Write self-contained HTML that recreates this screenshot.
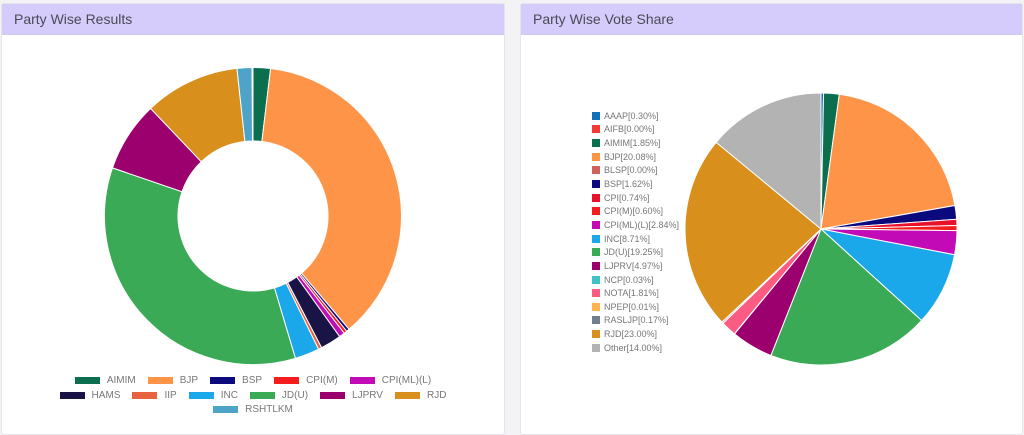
<!DOCTYPE html>
<html><head><meta charset="utf-8"><style>
body{margin:0;width:1024px;height:423px;background:#f3f3f5;font-family:"Liberation Sans",sans-serif;overflow:hidden;position:relative}
.card{position:absolute;top:3px;height:430px;background:#fff;border:1px solid #e4e4ea;border-radius:3px}
.hd{height:30px;background:#d6ccfc;color:#4a4a55;font-size:14px;line-height:30px;padding-left:12px;border-bottom:1px solid #cfc6f0}
.lg{position:absolute;display:flex;justify-content:center;width:100%;left:0;font-size:10px;color:#777}
.lg span{display:flex;align-items:center;margin:0 6px}
.lg i{display:inline-block;width:25px;height:7px;margin-right:7px}
.rl{position:absolute;left:592px;top:109px;font-size:9px;color:#777}
.rl div{height:13.65px;display:flex;align-items:center}
.rl i{display:inline-block;width:8px;height:8px;margin-right:4px}
</style></head><body>
<div class="card" style="left:1px;width:502px"><div class="hd">Party Wise Results</div>
<div class="lg" style="top:371px"><span><i style="background:#0b6e4f"></i>AIMIM</span><span><i style="background:#fe9448"></i>BJP</span><span><i style="background:#0a0a7e"></i>BSP</span><span><i style="background:#f41c1c"></i>CPI(M)</span><span><i style="background:#c20ab6"></i>CPI(ML)(L)</span></div>
<div class="lg" style="top:386px"><span><i style="background:#1a1446"></i>HAMS</span><span><i style="background:#e8623f"></i>IIP</span><span><i style="background:#1ba8ea"></i>INC</span><span><i style="background:#3aaa56"></i>JD(U)</span><span><i style="background:#9c006e"></i>LJPRV</span><span><i style="background:#d88f1c"></i>RJD</span></div>
<div class="lg" style="top:400px"><span><i style="background:#4da3c8"></i>RSHTLKM</span></div>
</div>
<div class="card" style="left:520px;width:501px"><div class="hd">Party Wise Vote Share</div></div>
<svg id="s" width="1024" height="423" style="position:absolute;left:0;top:0"></svg>
<div class="rl" id="rl"></div>
<script>
function pt(cx,cy,r,a){a=(a-90)*Math.PI/180;return [cx+r*Math.cos(a),cy+r*Math.sin(a)]}
function arc(cx,cy,r,ri,a0,a1){var l=a1-a0>180?1:0,p=pt(cx,cy,r,a0),q=pt(cx,cy,r,a1);
if(!ri){return `M${cx},${cy}L${p}A${r},${r} 0 ${l} 1 ${q}Z`}
var p2=pt(cx,cy,ri,a1),q2=pt(cx,cy,ri,a0);return `M${p}A${r},${r} 0 ${l} 1 ${q}L${p2}A${ri},${ri} 0 ${l} 0 ${q2}Z`}
var s='';
var d=[[0,6.8,'#0b6e4f'],[6.8,139.7,'#fe9448'],[139.7,140.9,'#0a0a7e'],[140.9,142.1,'#f41c1c'],[142.1,144.3,'#c20ab6'],[144.3,152.5,'#1a1446'],[152.5,153.8,'#e8623f'],[153.8,163.4,'#1ba8ea'],[163.4,288.9,'#3aaa56'],[288.9,316.4,'#9c006e'],[316.4,353.8,'#d88f1c'],[353.8,359.6,'#4da3c8']];
d.forEach(x=>s+=`<path d="${arc(253,216,148.5,75,x[0],x[1])}" fill="${x[2]}" stroke="#fff" stroke-width="1"/>`);
var v=[['AAAP',.3,'#1170b8'],['AIFB',0,'#f23a3a'],['AIMIM',1.85,'#0b6e4f'],['BJP',20.08,'#fe9448'],['BLSP',0,'#d0605a'],['BSP',1.62,'#0a0a7e'],['CPI',.74,'#e8102a'],['CPI(M)',.6,'#f41c1c'],['CPI(ML)(L)',2.84,'#c20ab6'],['INC',8.71,'#1ba8ea'],['JD(U)',19.25,'#3aaa56'],['LJPRV',4.97,'#9c006e'],['NCP',.03,'#3fc1c9'],['NOTA',1.81,'#fc5c82'],['NPEP',.01,'#fdb44b'],['RASLJP',.17,'#708090'],['RJD',23,'#d88f1c'],['Other',14,'#b3b3b3']];
var tot=v.reduce((a,b)=>a+b[1],0),a=0,h='';
v.forEach(x=>{var e=a+x[1]/tot*360;if(x[1]>0)s+=`<path d="${arc(821,229,136,0,a,e)}" fill="${x[2]}" stroke="#fff" stroke-width="1"/>`;a=e;
h+=`<div><i style="background:${x[2]}"></i>${x[0]}[${x[1].toFixed(2)}%]</div>`});
document.getElementById('s').innerHTML=s;document.getElementById('rl').innerHTML=h;
</script>
</body></html>
